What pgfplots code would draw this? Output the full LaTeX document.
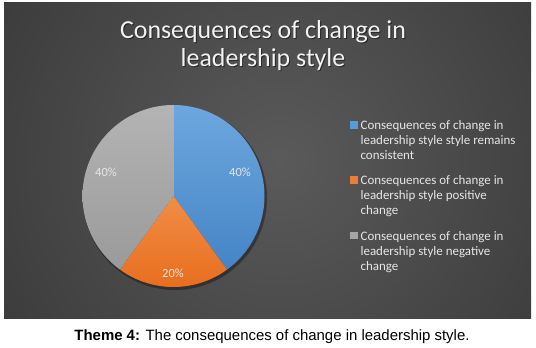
\documentclass[border=0pt]{standalone}
\usepackage{fontspec}
\setmainfont{Carlito}
\newfontfamily\capfont{Liberation Sans}
\usepackage{pgfplots}
\pgfplotsset{compat=1.18}
\definecolor{bgin}{HTML}{5A5A5A}
\definecolor{bgout}{HTML}{262626}
\definecolor{blueT}{HTML}{6DA7DE}
\definecolor{blueB}{HTML}{4584C6}
\definecolor{orT}{HTML}{F28D47}
\definecolor{orB}{HTML}{E86E1E}
\definecolor{grT}{HTML}{B4B4B4}
\definecolor{grB}{HTML}{9A9A9A}
\definecolor{legA}{HTML}{5B9BD5}
\definecolor{legB}{HTML}{ED7D31}
\definecolor{legC}{HTML}{A5A5A5}
\definecolor{txt}{HTML}{E6E6E6}
\definecolor{titlec}{HTML}{F2F2F2}
% shares (percent)
\def\vA{40}
\def\vB{20}
\def\vC{40}
\begin{document}
\begin{tikzpicture}
\pgfmathsetmacro{\aA}{90}
\pgfmathsetmacro{\aB}{\aA-3.6*\vA}
\pgfmathsetmacro{\aC}{\aB-3.6*\vB}
\pgfmathsetmacro{\aD}{\aC-3.6*\vC}
\def\cx{173.5}
\def\cy{151}
\def\rr{91}
\begin{axis}[
  width=536bp, height=347bp, scale only axis,
  xmin=0, xmax=536, ymin=0, ymax=347,
  axis lines=none, clip=false,
  legend style={at={(axis cs:350,227)}, anchor=north west, draw=none, fill=none,
    text=txt, font=\fontsize{13}{15}\selectfont, row sep=14.5bp, inner sep=0pt,
    nodes={inner sep=0pt}, column sep=3.5bp,
    cells={anchor=north west, align=left}},
]
\fill[white] (axis cs:0,0) rectangle (axis cs:536,347);
\begin{scope}
\clip (axis cs:4,28) rectangle (axis cs:531,344);
\fill[bgout] (axis cs:4,28) rectangle (axis cs:531,344);
\shade[inner color=bgin, outer color=bgout] (axis cs:280,185) circle[radius=560bp];
\end{scope}
% pie shadow
\fill[black, opacity=0.35] (axis cs:175,149) circle[radius=92bp];
% slices
\addplot[forget plot, draw=none, top color=blueT, bottom color=blueB, domain=\aA:\aB, samples=100, variable=\t]
  ({\cx+\rr*cos(\t)},{\cy+\rr*sin(\t)}) -- (axis cs:\cx,\cy) -- cycle;
\addplot[forget plot, draw=none, top color=orT, bottom color=orB, domain=\aB:\aC, samples=60, variable=\t]
  ({\cx+\rr*cos(\t)},{\cy+\rr*sin(\t)}) -- (axis cs:\cx,\cy) -- cycle;
\addplot[forget plot, draw=none, top color=grT, bottom color=grB, domain=\aC:\aD, samples=100, variable=\t]
  ({\cx+\rr*cos(\t)},{\cy+\rr*sin(\t)}) -- (axis cs:\cx,\cy) -- cycle;
% labels
\node[text=txt, font=\fontsize{12.5}{14}\selectfont] at (axis cs:240,175) {\vA\%};
\node[text=txt, font=\fontsize{12.5}{14}\selectfont] at (axis cs:173,74) {\vB\%};
\node[text=txt, font=\fontsize{12.5}{14}\selectfont] at (axis cs:106,175) {\vC\%};
% title
\node[anchor=base, text=black, opacity=0.5, font=\fontsize{26}{30}\selectfont] at (axis cs:264,307) {Consequences of change in};
\node[anchor=base, text=black, opacity=0.5, font=\fontsize{26}{30}\selectfont] at (axis cs:264,279) {leadership style};
\node[anchor=base, text=titlec, font=\fontsize{26}{30}\selectfont] at (axis cs:263,308) {Consequences of change in};
\node[anchor=base, text=titlec, font=\fontsize{26}{30}\selectfont] at (axis cs:263,280) {leadership style};
% caption
\node[anchor=base, text=black, font=\capfont\fontsize{15}{17}\selectfont] at (axis cs:272,6) {\textbf{Theme 4:} The consequences of change in leadership style.};
% legend
\addlegendimage{legend image code/.code={\path (0bp,0bp); \fill[legA] (0bp,-1bp) rectangle (6.5bp,-7.5bp);}}
\addlegendentry{Consequences of change in\\leadership style style remains\\consistent}
\addlegendimage{legend image code/.code={\path (0bp,0bp); \fill[legB] (0bp,-1bp) rectangle (6.5bp,-7.5bp);}}
\addlegendentry{Consequences of change in\\leadership style positive\\change}
\addlegendimage{legend image code/.code={\path (0bp,0bp); \fill[legC] (0bp,-1bp) rectangle (6.5bp,-7.5bp);}}
\addlegendentry{Consequences of change in\\leadership style negative\\change}
\end{axis}
\end{tikzpicture}
\end{document}
